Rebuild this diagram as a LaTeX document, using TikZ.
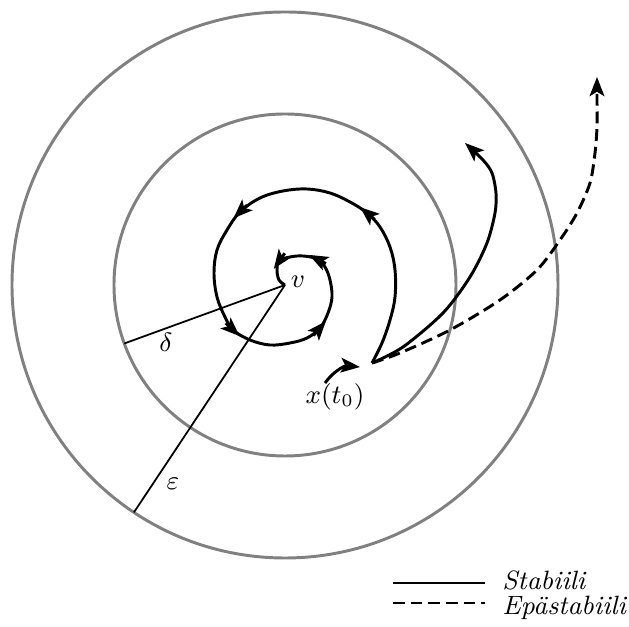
\documentclass[tikz,border=0pt]{standalone}
\usetikzlibrary{arrows.meta}

\tikzset{
  orbit/.style={line width=1pt},
  ball/.style={line width=1pt, gray},
  unstab/.style={orbit, dash pattern=on 4pt off 2pt},
}

\begin{document}
\begin{tikzpicture}[scale=1.193, >={Stealth[length=6.5pt,width=5pt,inset=1.5pt]}, every node/.style={font=\small}]
  \useasboundingbox (-2.85,-3.42) rectangle (3.44,2.85);
  \coordinate (v) at (0,0);
  \coordinate (x0) at (0.87,-0.78);
  \foreach \r in {1.71,2.73}{ \draw[ball] (v) circle (\r); }
  \draw[semithick] (v) -- (200:1.71);
  \draw[semithick] (v) -- (236.4:2.73);
  \node (lbldelta) at (-1.19,-0.57) {$\delta$};
  \node (lbleps) at (-1.12,-1.99) {$\varepsilon$};
  \node (lblv) at (0.13,0.03) {$v$};
  % trajectory spiralling into v
  \draw[orbit] plot[smooth, tension=0.6] coordinates {(x0) (0.97,-0.58) (1.05,-0.35) (1.10,-0.12) (1.10,0.15)
      (1.05,0.38) (0.95,0.58) (0.82,0.72) (0.65,0.83) (0.45,0.92) (0.22,0.96) (-0.02,0.94) (-0.25,0.87)
      (-0.45,0.73) (-0.58,0.55) (-0.68,0.35) (-0.71,0.12) (-0.68,-0.12) (-0.60,-0.32) (-0.52,-0.45)
      (-0.35,-0.55) (-0.15,-0.60) (0.05,-0.58) (0.22,-0.53) (0.35,-0.43) (0.43,-0.28) (0.47,-0.12)
      (0.45,0.05) (0.40,0.18) (0.32,0.26) (0.18,0.29) (0.05,0.28) (-0.06,0.24) (-0.08,0.15) (-0.06,0.05) (v)};
  \foreach \x/\y/\a in {0.82/0.72/140, -0.45/0.73/224, -0.52/-0.45/317, 0.35/-0.43/49, 0.32/0.26/153, -0.06/0.235/235}{
    \draw[orbit,->] (\x,\y) ++(\a+180:0.1) -- ++(\a:0.19); }
  \draw[orbit, ->] plot[smooth] coordinates {(x0) (1.18,-0.62) (1.58,-0.28) (1.85,0.08) (2.02,0.42)
      (2.10,0.72) (2.11,0.92) (2.07,1.12) (1.98,1.25) (1.80,1.42)};
  \draw[unstab, ->] plot[smooth] coordinates {(x0) (1.15,-0.68) (1.65,-0.45) (2.15,-0.15) (2.52,0.15)
      (2.75,0.45) (2.92,0.72) (3.05,1.02) (3.10,1.32) (3.12,1.58) (3.12,1.85) (3.12,2.08)};
  \coordinate (t0a) at (0.40,-0.98);
  \coordinate (t0b) at (0.75,-0.82);
  \draw[orbit, ->] (t0a) to[bend left=30] (t0b);
  \node (lblx0) at (0.50,-1.12) {$x(t_0)$};
  % legend
  \draw[orbit] (1.08,-2.98) -- (2.00,-2.98);
  \draw[unstab] (1.08,-3.18) -- (2.00,-3.18);
  \node[anchor=west] (stab) at (2.07,-2.95) {\textit{Stabiili}};
  \node[anchor=west] (unst) at (2.07,-3.23) {\textit{Epästabiili}};
\end{tikzpicture}
\end{document}
